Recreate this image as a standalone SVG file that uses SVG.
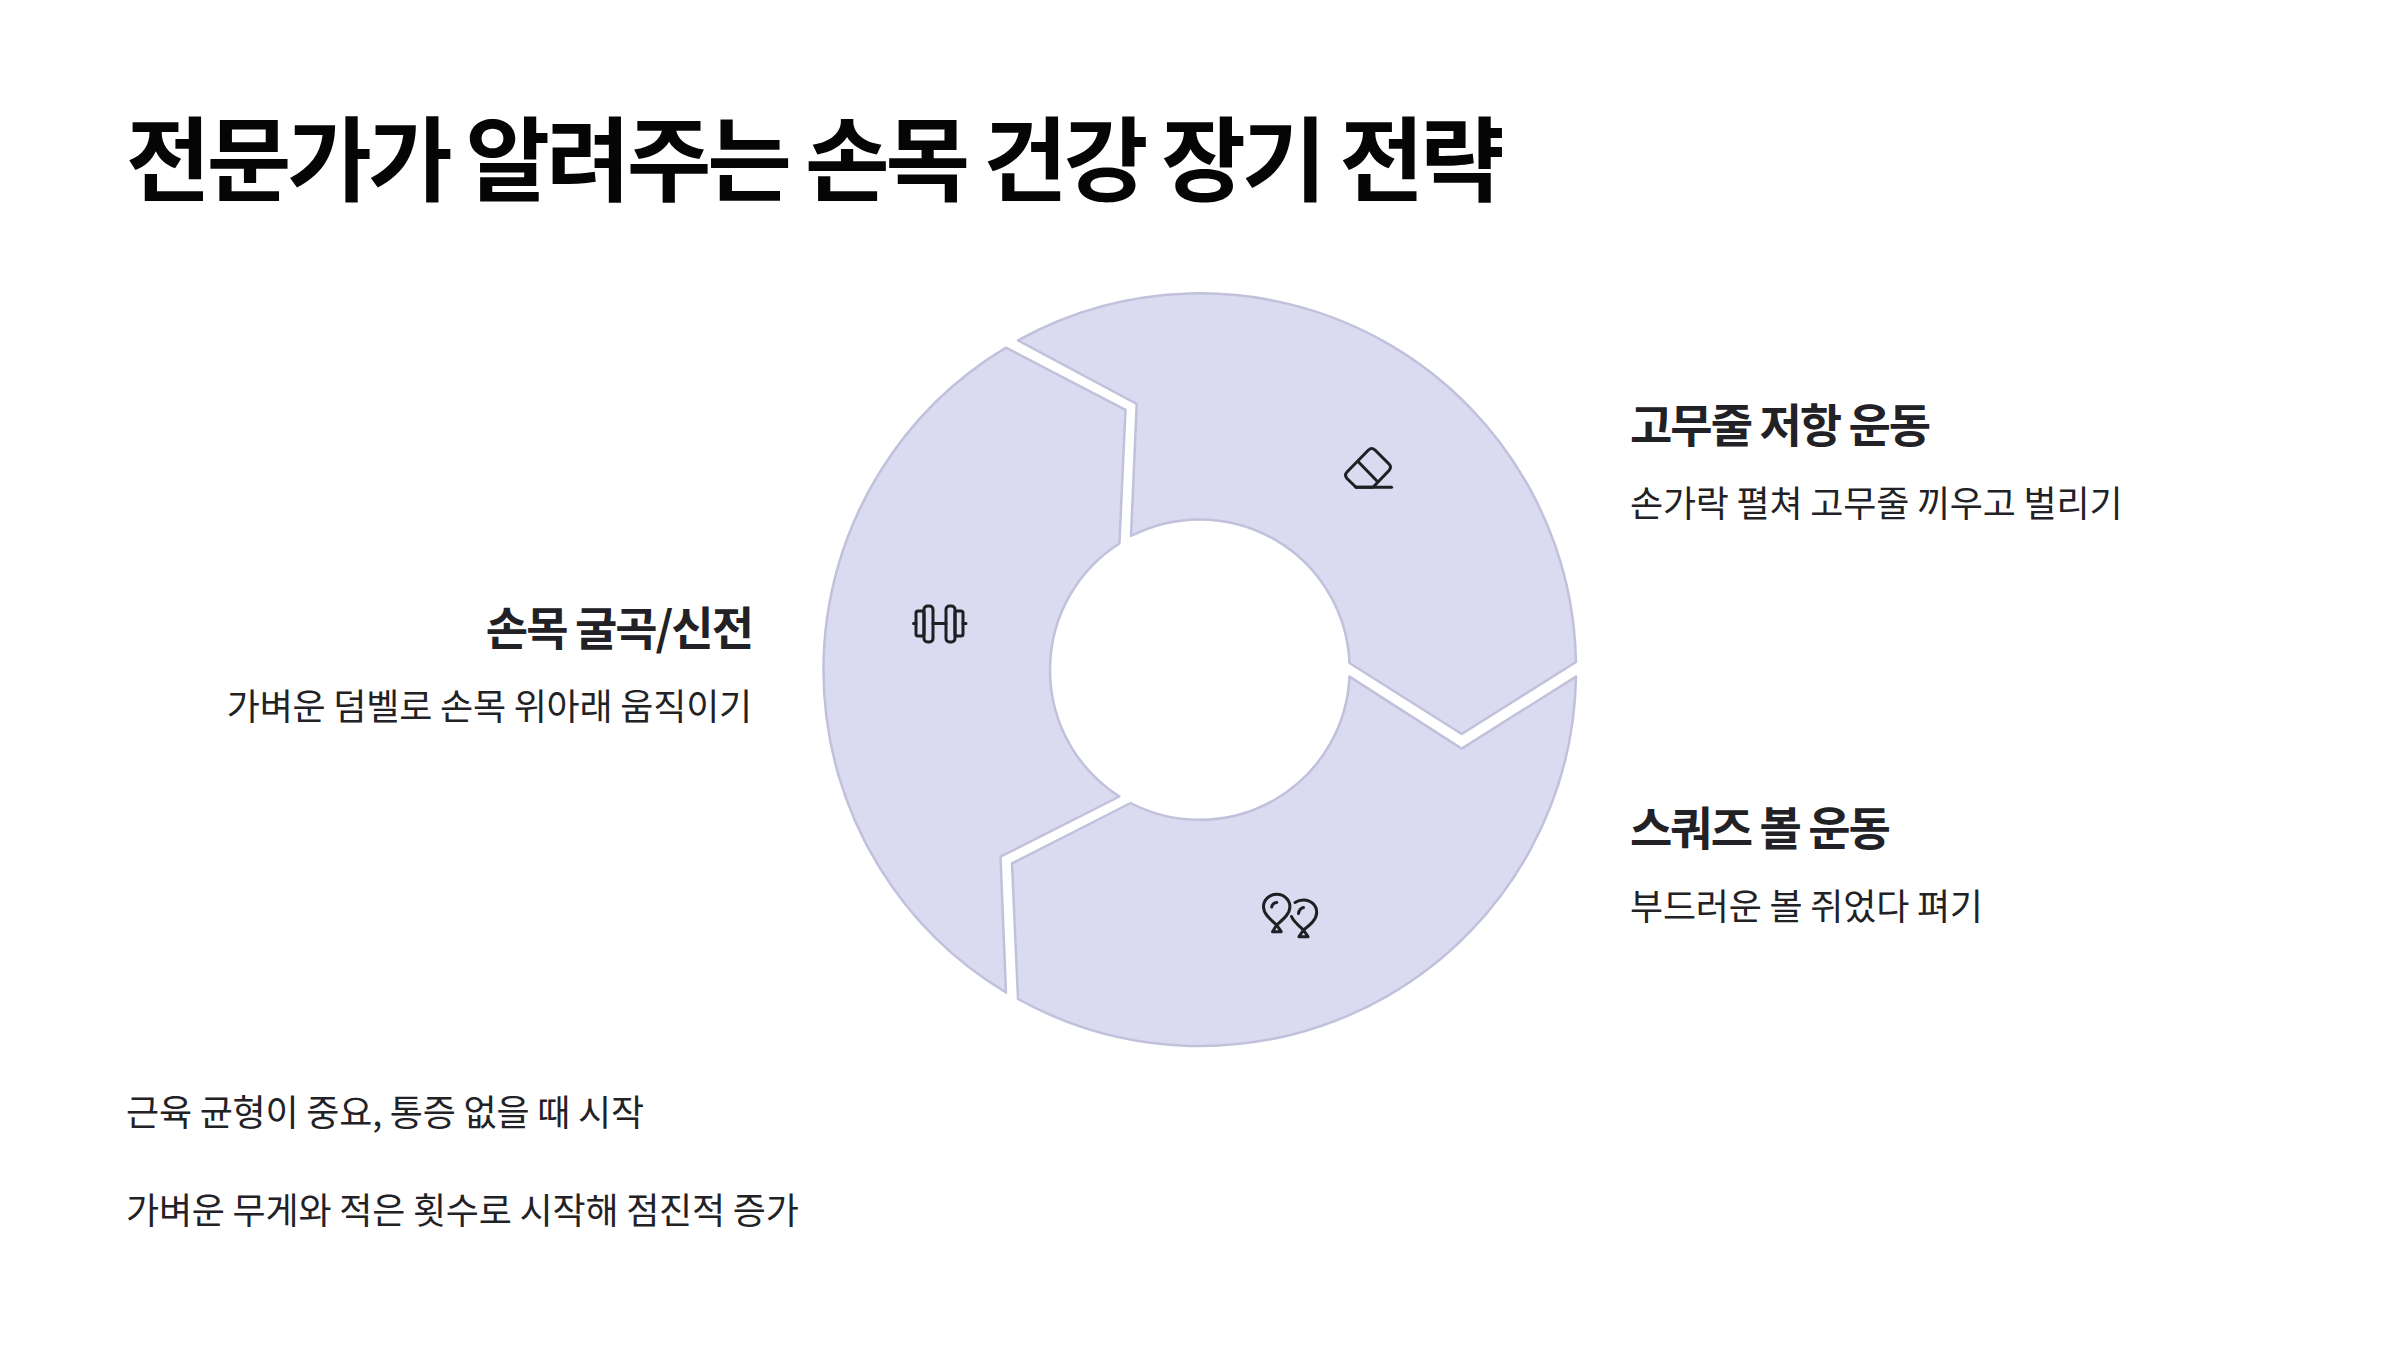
<svg xmlns="http://www.w3.org/2000/svg" width="2400" height="1350" viewBox="0 0 2400 1350">
<style>
text{font-family:"Noto Sans CJK KR","Noto Sans",sans-serif;fill:#222226}
.t{font-size:92px;font-weight:700;fill:#050505;letter-spacing:-4px}
.h{font-size:46px;font-weight:700;letter-spacing:-2px}
.b{font-size:36px;font-weight:400;letter-spacing:-.2px}
.e{text-anchor:end}
.s{fill:#dadaf0;stroke:#c1c1dc;stroke-width:2.5;stroke-linejoin:round}
.i{fill:none;stroke:#1f1f24;stroke-width:3;stroke-linecap:round;stroke-linejoin:round}
</style>
<rect width="2400" height="1350" fill="#fff"/>
<text class="t" x="126" y="194">전문가가 알려주는 손목 건강 장기 전략</text>
<g id="node-resistance">
<path class="s" d="M1018 340.400L1136.700 404L1131 536A150 150 0 0 1 1349.500 663L1461.700 734L1576 662A376 376 0 0 0 1018 340.400Z"/>
<g class="i"><path d="M1356 487.300H1391.500"/><path d="M1368.500 450Q1371.700 447 1375 450L1389 464Q1392 467 1389 470.500L1373 487.300H1356L1347 478.500Q1344 475 1347 472Z"/><path d="M1358.300 461.700L1376.700 480.700"/></g>
<text class="h" x="1630" y="442">고무줄 저항 운동</text>
<text class="b" x="1630" y="517">손가락 펼쳐 고무줄 끼우고 벌리기</text>
</g>
<g id="node-squeeze">
<path class="s" d="M1349.500 676.600L1461.700 748.600L1576 676.600A376 376 0 0 1 1018 999L1012 863.400L1130.600 803A150 150 0 0 0 1349.500 676.600Z"/>
<g class="i"><path d="M1276.700 925C1270 919 1263.500 914 1263.500 906.500C1263.500 899.500 1269.500 894.300 1276.700 894.300C1283.900 894.300 1289.900 899.500 1289.900 906.500C1289.900 914 1283.400 919 1276.700 925Z"/><path d="M1276.700 925L1272.500 931.700H1281.200Z"/><path d="M1271.700 907Q1272.500 903 1276.700 902.500"/><path d="M1295 902.500C1298 900.500 1300.500 900 1303.500 900C1310.700 900 1316.700 905 1316.700 912.300C1316.700 919.500 1310.500 924.500 1303.500 930C1298.500 925.500 1293.500 921.500 1291.500 916.500"/><path d="M1303.500 930L1299 936.700H1308Z"/><path d="M1298.500 913.500Q1299.300 908.500 1303.500 907.500"/></g>
<text class="h" x="1630" y="845">스쿼즈 볼 운동</text>
<text class="b" x="1630" y="920">부드러운 볼 쥐었다 펴기</text>
</g>
<g id="node-flexion">
<path class="s" d="M1006 347.600L1125.500 409.800L1119.400 543.500A150 150 0 0 0 1119.400 796.500L1000.500 856.700L1006 992.400A376 376 0 0 1 1006 347.600Z"/>
<g class="i"><rect x="916" y="611" width="8" height="25" rx="2"/><rect x="955" y="611" width="8" height="25" rx="2"/><rect x="924" y="606" width="9" height="36" rx="3.500"/><rect x="946" y="606" width="9" height="36" rx="3.500"/><path d="M933 623.500H946M913.500 623.500H916M963 623.500H966"/></g>
<text class="h e" x="752" y="645">손목 굴곡/신전</text>
<text class="b e" x="752" y="720">가벼운 덤벨로 손목 위아래 움직이기</text>
</g>
<g id="notes">
<text class="b" x="126" y="1126">근육 균형이 중요, 통증 없을 때 시작</text>
<text class="b" x="126" y="1224">가벼운 무게와 적은 횟수로 시작해 점진적 증가</text>
</g>
<g id="connectors"></g>
</svg>
